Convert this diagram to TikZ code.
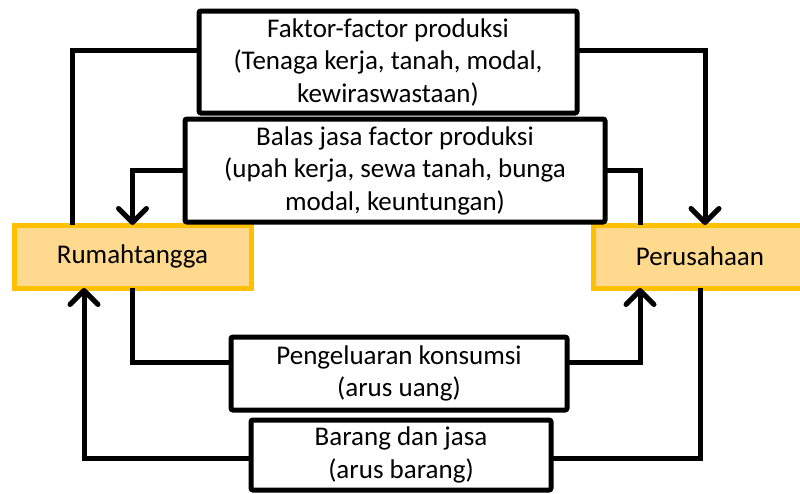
\documentclass[tikz,border=0pt]{standalone}
\usepackage{fontspec}
\setmainfont{Carlito}
\usetikzlibrary{arrows.meta}
\definecolor{boxorange}{HTML}{FFC000}
\definecolor{boxfill}{HTML}{FFD98E}
\begin{document}
\begin{tikzpicture}[x=1pt,y=-1pt,
  txt/.style={font=\fontsize{27}{32.5}\selectfont, align=center, inner sep=0pt, outer sep=0pt},
  flowbox/.style={txt, draw=black, line width=5pt, fill=white, rounded corners=2pt},
  agent/.style={txt, draw=boxorange, line width=5pt, fill=boxfill},
  conn/.style={draw=black, line width=5pt},
  arr/.style={conn, -{Straight Barb[length=14pt,width=28pt,line cap=round,line join=round]}}]
\clip (0,0) rectangle (800,493);
\fill[white] (0,0) rectangle (800,493);
\node[agent, minimum width=237pt, minimum height=63pt] (rt) at (132.5,256.5) {Rumahtangga};
\node[agent, minimum width=214pt, minimum height=63pt] (pe) at (700,256.5) {Perusahaan};
\node[flowbox, minimum width=378pt, minimum height=102pt] (f1) at (388,62) {Faktor-factor produksi\\(Tenaga kerja, tanah, modal,\\kewiraswastaan)};
\node[flowbox, minimum width=420pt, minimum height=103pt] (b2) at (395,170.5) {Balas jasa factor produksi\\(upah kerja, sewa tanah, bunga\\modal, keuntungan)};
\node[flowbox, minimum width=336pt, minimum height=73pt] (b3) at (399,373.5) {Pengeluaran konsumsi\\(arus uang)};
\node[flowbox, minimum width=300pt, minimum height=70pt] (b4) at (401,455) {Barang dan jasa\\(arus barang)};
\draw[conn] (f1.west |- 0,50) -| (72,0 |- rt.north);
\draw[arr] (f1.east |- 0,50) -| (705,0 |- pe.north);
\draw[conn] (b2.east) -| (640,0 |- pe.north);
\draw[arr] (b2.west) -| (rt.north);
\draw[conn] (rt.south) |- (b3.west |- 0,362);
\draw[arr] (b3.east |- 0,362) -| (640,0 |- pe.south);
\draw[arr] (b4.west |- 0,458) -| (84,0 |- rt.south);
\draw[conn] (b4.east |- 0,458) -| (pe.south);
\end{tikzpicture}
\end{document}
